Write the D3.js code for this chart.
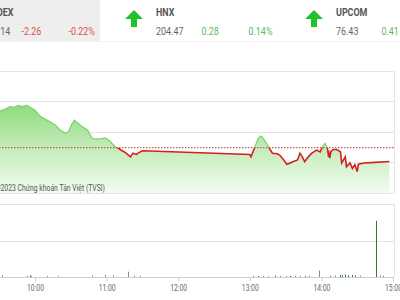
<!DOCTYPE html>
<html>
<head>
<meta charset="utf-8">
<script src="https://cdn.jsdelivr.net/npm/d3@7"></script>
<style>
body { margin: 0; background: #fff; overflow: hidden; }
svg { display: block; font-family: Roboto, 'Open Sans', sans-serif; }
</style>
</head>
<body>
<svg></svg>
<script>
// index strip on top
var indexNames = ['VNINDEX', 'HNX', 'UPCOM'];
var indexValues = ['1,025.14', '204.47', '76.43'];
var indexChanges = ['-2.26', '0.28', '0.41'];
var indexPercents = ['-0.22%', '0.14%', '0.41%'];

// intraday VNINDEX
var priceTimes = ['09:15', '09:31', '09:35', '09:39', '09:43', '09:46', '09:49', '09:53', '09:56', '10:00',
    '10:04', '10:08', '10:13', '10:17', '10:21', '10:25', '10:28', '10:31', '10:33', '10:36',
    '10:39', '10:44', '10:48', '10:54', '10:59', '11:03', '11:07', '11:10', '11:13', '11:15',
    '11:17', '11:20', '11:22', '11:25', '11:27', '11:30', '13:00', '13:01', '13:04', '13:07',
    '13:09', '13:10', '13:12', '13:14', '13:17', '13:19', '13:23', '13:25', '13:28', '13:31',
    '13:34', '13:36', '13:40', '13:42', '13:44', '13:46', '13:49', '13:52', '13:56', '13:59',
    '14:01', '14:03', '14:05', '14:06', '14:06', '14:07', '14:08', '14:10', '14:13', '14:16',
    '14:17', '14:20', '14:21', '14:24', '14:26', '14:28', '14:30', '14:31', '14:36', '14:45', '14:57'];
var priceValues = [1032.8, 1033.4, 1033.7, 1034.1, 1034.0, 1034.3, 1034.1, 1034.3, 1034.0, 1033.5,
    1032.6, 1032.1, 1031.6, 1031.1, 1030.3, 1029.8, 1030.0, 1031.3, 1031.9, 1031.4,
    1030.9, 1030.3, 1028.9, 1028.8, 1029.0, 1028.4, 1027.6, 1027.3, 1026.9, 1026.7,
    1026.4, 1025.9, 1026.5, 1026.3, 1026.6, 1026.9, 1026.3, 1025.9, 1027.4, 1028.9,
    1029.3, 1029.2, 1028.7, 1028.1, 1027.1, 1026.5, 1026.4, 1026.2, 1025.5, 1024.7,
    1024.9, 1025.1, 1025.4, 1026.5, 1025.9, 1025.1, 1025.9, 1026.5, 1027.0, 1026.7,
    1027.6, 1028.1, 1027.4, 1025.9, 1026.9, 1025.7, 1026.8, 1027.1, 1027.1, 1026.7,
    1024.9, 1025.9, 1024.3, 1024.9, 1024.0, 1024.6, 1023.5, 1024.7, 1024.9, 1025.0, 1025.14];
var refPrice = 1027.40;
var priceTicks = [1020, 1025, 1030, 1035, 1040];

// volume bars
var volTimes = ['09:32', '09:53', '09:56', '09:57', '10:10', '10:19', '10:48', '10:59', '11:05', '11:18',
    '11:23', '11:28', '13:03', '13:07', '13:11', '13:15', '13:21', '13:25', '13:30', '13:34',
    '13:38', '13:42', '13:46', '13:50', '13:58', '14:07', '14:11', '14:16', '14:17', '14:20',
    '14:22', '14:26', '14:28', '14:32', '14:46', '14:49', '14:52'];
var volValues = [0.8, 0.6, 1.0, 0.7, 0.6, 0.6, 0.7, 1.2, 0.8, 2.9,
    0.7, 0.6, 0.6, 0.5, 0.6, 0.5, 0.7, 0.6, 0.5, 0.6,
    0.7, 0.6, 0.5, 0.6, 3.5, 0.7, 0.8, 1.2, 1.0, 1.4,
    0.9, 1.1, 0.8, 0.7, 30.8, 0.8, 0.7];
var volUp = [0, 0, 0, 0, 0, 0, 0, 0, 0, 0,
    0, 0, 0, 1, 0, 0, 1, 0, 0, 1,
    0, 0, 1, 0, 0, 0, 0, 1, 1, 1,
    1, 1, 1, 0, 1, 0, 0];
var volTicks = [0, 20, 40];
var timeTicks = ['10:00', '11:00', '12:00', '13:00', '14:00', '15:00'];

var parseTime = d3.timeParse('%H:%M');

var width = 400, height = 300;
var svg = d3.select('svg')
    .attr('width', width)
    .attr('height', height)

// narrow look of the original font: squeeze horizontally
function squeeze(x, y, k) {
    return 'translate(' + x + ',' + y + ') scale(' + (k || 0.85) + ',1)';
}

//// header cards
var cardW = 180;
var cards = svg.selectAll('g.card')
    .data(indexNames)
    .enter()
    .append('g')
    .attr('class', 'card')
    .attr('transform', (d, i) => 'translate(' + (100 + cardW * (i - 1)) + ',0)')

cards.append('rect')
    .attr('width', cardW)
    .attr('height', 41)
    .attr('fill', (d, i) => i == 0 ? '#eeeeee' : '#fff')

svg.append('line')
    .attr('x1', 0).attr('x2', width)
    .attr('y1', 41.5).attr('y2', 41.5)
    .attr('stroke', '#f0f0f0')

// arrows, up or down from the change sign
cards.append('path')
    .attr('d', function(d, i) {
        var up = indexChanges[i].charAt(0) != '-';
        return up ? 'M25,19 L34,10 L43,19 L37,19 L37,27 L31,27 L31,19 Z'
            : 'M25,18 L34,27 L43,18 L37,18 L37,10 L31,10 L31,18 Z';
    })
    .attr('fill', (d, i) => indexChanges[i].charAt(0) == '-' ? '#e53935' : '#21c02a')

cards.append('text')
    .attr('transform', squeeze(56, 16))
    .style('font-size', '10.5px')
    .style('font-weight', 'bold')
    .attr('fill', '#555')
    .text(d => d)

cards.append('text')
    .attr('transform', squeeze(56, 34.5))
    .style('font-size', '10.5px')
    .attr('fill', '#666')
    .text((d, i) => indexValues[i])

cards.append('text')
    .attr('transform', squeeze(101.5, 34.5))
    .style('font-size', '10.5px')
    .attr('fill', (d, i) => indexChanges[i].charAt(0) == '-' ? '#d9534f' : '#5cb85c')
    .text((d, i) => indexChanges[i])

cards.append('text')
    .attr('transform', squeeze(148.5, 34.5))
    .style('font-size', '10.5px')
    .attr('fill', (d, i) => indexChanges[i].charAt(0) == '-' ? '#d9534f' : '#5cb85c')
    .text((d, i) => indexPercents[i])

//// scales
var xScale = d3.scaleTime()
    .domain([parseTime('09:00'), parseTime('15:00')])
    .range([-36.6, 393])

var yScale = d3.scaleLinear()
    .domain([1020, 1040])
    .range([193, 70.5])

var vScale = d3.scaleLinear()
    .domain([0, 40])
    .range([277, 204])

var plotRight = 394;

var priceData = priceTimes.map((t, i) => ({ t: parseTime(t), v: priceValues[i] }))
var volData = volTimes.map((t, i) => ({ t: parseTime(t), v: volValues[i], up: volUp[i] }))

//// price panel
var defs = svg.append('defs')
var grad = defs.append('linearGradient')
    .attr('id', 'areaGrad')
    .attr('gradientUnits', 'userSpaceOnUse')
    .attr('x1', 0).attr('x2', 0)
    .attr('y1', yScale(1035)).attr('y2', yScale(1020))
grad.append('stop').attr('offset', '0%').attr('stop-color', '#8bda78')
grad.append('stop').attr('offset', '45%').attr('stop-color', '#bdeab2')
grad.append('stop').attr('offset', '100%').attr('stop-color', '#f3fcf1')

defs.append('clipPath').attr('id', 'above')
    .append('rect')
    .attr('x', -50).attr('width', 500)
    .attr('y', 0).attr('height', yScale(refPrice))
defs.append('clipPath').attr('id', 'below')
    .append('rect')
    .attr('x', -50).attr('width', 500)
    .attr('y', yScale(refPrice)).attr('height', 300)

svg.append('g')
    .selectAll('line')
    .data(priceTicks)
    .enter()
    .append('line')
    .attr('x1', -40).attr('x2', plotRight)
    .attr('y1', d => Math.round(yScale(d)) + 0.5)
    .attr('y2', d => Math.round(yScale(d)) + 0.5)
    .attr('stroke', '#e4e4e4')

svg.append('line')
    .attr('x1', plotRight + 0.5).attr('x2', plotRight + 0.5)
    .attr('y1', yScale(1040)).attr('y2', yScale(1020) + 0.5)
    .attr('stroke', '#e4e4e4')

var area = d3.area()
    .x(d => xScale(d.t))
    .y0(yScale(1020))
    .y1(d => yScale(d.v))

var line = d3.line()
    .x(d => xScale(d.t))
    .y(d => yScale(d.v))

svg.append('path')
    .datum(priceData)
    .attr('d', area)
    .attr('fill', 'url(#areaGrad)')

svg.append('text')
    .attr('transform', squeeze(105, 191, 0.72))
    .attr('text-anchor', 'end')
    .style('font-size', '9.5px')
    .attr('fill', '#555')
    .text('©2023 Chứng khoán Tân Việt (TVSI)')

svg.append('line')
    .attr('x1', -40).attr('x2', plotRight)
    .attr('y1', yScale(refPrice)).attr('y2', yScale(refPrice))
    .attr('stroke', '#b23a3a')
    .attr('stroke-dasharray', '1.5,1.5')

svg.append('path')
    .datum(priceData)
    .attr('d', line)
    .attr('clip-path', 'url(#above)')
    .attr('fill', 'none')
    .attr('stroke', '#7fd06c')
    .attr('stroke-width', 1.2)

svg.append('path')
    .datum(priceData)
    .attr('d', line)
    .attr('clip-path', 'url(#below)')
    .attr('fill', 'none')
    .attr('stroke', '#d61f1f')
    .attr('stroke-width', 1.6)

//// volume panel
svg.append('g')
    .selectAll('line')
    .data(volTicks)
    .enter()
    .append('line')
    .attr('x1', -40).attr('x2', plotRight)
    .attr('y1', d => Math.round(vScale(d)) + 0.5)
    .attr('y2', d => Math.round(vScale(d)) + 0.5)
    .attr('stroke', d => d == 0 ? '#cfcfcf' : '#e4e4e4')

svg.append('line')
    .attr('x1', plotRight + 0.5).attr('x2', plotRight + 0.5)
    .attr('y1', vScale(40)).attr('y2', vScale(0))
    .attr('stroke', '#e4e4e4')

svg.append('g')
    .selectAll('rect')
    .data(volData)
    .enter()
    .append('rect')
    .attr('x', d => Math.round(xScale(d.t)))
    .attr('width', 1)
    .attr('y', d => vScale(d.v))
    .attr('height', d => vScale(0) - vScale(d.v))
    .attr('fill', d => d.up ? '#2f7d3a' : '#8a8a8a')

var xAxis = d3.axisBottom(xScale)
    .tickValues(timeTicks.map(parseTime))
    .tickFormat(d3.timeFormat('%H:%M'))
    .tickSize(4)
    .tickPadding(3)

var axisG = svg.append('g')
    .attr('transform', 'translate(0,' + (Math.round(vScale(0)) + 0.5) + ')')
    .call(xAxis)

axisG.select('.domain').remove()
axisG.selectAll('line').attr('stroke', '#cfcfcf')
axisG.selectAll('text')
    .attr('transform', 'scale(0.8,1)')
    .style('font-size', '8.5px')
    .style('font-family', 'Roboto, sans-serif')
    .attr('fill', '#666')
</script>
</body>
</html>
